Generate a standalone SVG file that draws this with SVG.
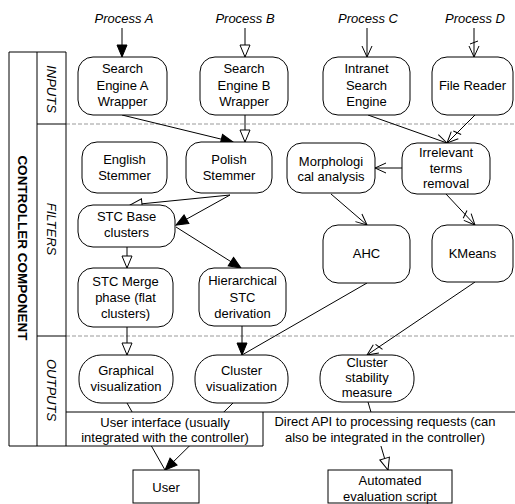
<svg xmlns="http://www.w3.org/2000/svg" width="515" height="504" viewBox="0 0 515 504">
<style>
text{font-family:"Liberation Sans",Arial,sans-serif;font-size:13px;fill:#000;text-anchor:middle}
.it{font-style:italic}
.b{font-weight:bold;font-size:13.5px}
.node{fill:#fff;stroke:#000;stroke-width:1}
.ln{fill:none;stroke:#000;stroke-width:1}
.dash{stroke:#999;stroke-width:1;stroke-dasharray:4 2;fill:none}
</style>
<defs>
<marker id="fill" markerUnits="userSpaceOnUse" markerWidth="20" markerHeight="20" orient="auto" overflow="visible"><path d="M-12,-5 L0,0 L-12,5 Z" fill="#000" stroke="#000"/></marker>
<marker id="open" markerUnits="userSpaceOnUse" markerWidth="20" markerHeight="20" orient="auto" overflow="visible"><path d="M-12,-5 L0,0 L-12,5 Z" fill="#fff" stroke="#000"/></marker>
<marker id="vee" markerUnits="userSpaceOnUse" markerWidth="20" markerHeight="20" orient="auto" overflow="visible"><path d="M-11,-5 L0,0 L-11,5" fill="none" stroke="#000"/></marker>
<marker id="veetick" markerUnits="userSpaceOnUse" markerWidth="20" markerHeight="20" orient="auto" overflow="visible"><path d="M-11,-5 L0,0 L-11,5 M-16,-4 L-13,4" fill="none" stroke="#000"/></marker>
</defs>

<g id="lanes">
<line class="dash" x1="66" y1="124" x2="515" y2="124"/>
<line class="dash" x1="66" y1="336" x2="515" y2="336"/>
</g>

<g id="connectors" class="ln">
<line x1="122" y1="28" x2="122" y2="57" marker-end="url(#fill)"/>
<line x1="245" y1="28" x2="245" y2="57" marker-end="url(#open)"/>
<line x1="367" y1="28" x2="367" y2="57" marker-end="url(#vee)"/>
<line x1="474" y1="28" x2="474" y2="57" marker-end="url(#veetick)"/>
<line x1="122" y1="115" x2="233" y2="142" marker-end="url(#fill)"/>
<line x1="245" y1="115" x2="245" y2="142" marker-end="url(#open)"/>
<line x1="368" y1="115" x2="447" y2="143" marker-end="url(#vee)"/>
<line x1="475" y1="115" x2="447" y2="143" marker-end="url(#veetick)"/>
<line x1="402" y1="168" x2="375" y2="168" marker-end="url(#vee)"/>
<line x1="331" y1="194" x2="367" y2="225" marker-end="url(#vee)"/>
<line x1="446" y1="194" x2="475" y2="225" marker-end="url(#veetick)"/>
<line x1="230" y1="195" x2="130" y2="205" marker-end="url(#open)"/>
<line x1="230" y1="195" x2="176" y2="225" marker-end="url(#fill)"/>
<line x1="127" y1="247" x2="127" y2="268" marker-end="url(#open)"/>
<line x1="176" y1="227" x2="241" y2="268" marker-end="url(#fill)"/>
<line x1="127" y1="327" x2="127" y2="355" marker-end="url(#open)"/>
<line x1="242" y1="326" x2="242" y2="355" marker-end="url(#fill)"/>
<line x1="367" y1="283" x2="242" y2="355"/>
<line x1="475" y1="282" x2="367" y2="355" marker-end="url(#veetick)"/>
<line x1="127" y1="403" x2="165" y2="470"/>
<line x1="233" y1="403" x2="165" y2="470" marker-end="url(#fill)"/>
<line x1="368" y1="402" x2="388" y2="470" marker-end="url(#open)"/>
</g>

<g id="frame" class="ln">
<rect x="66" y="412" width="449" height="34" fill="#fff" stroke="none"/>
<line x1="9" y1="52" x2="66" y2="52"/>
<line x1="9" y1="52" x2="9" y2="446"/>
<line x1="37" y1="52" x2="37" y2="446"/>
<line x1="66" y1="52" x2="66" y2="446"/>
<line x1="37" y1="124" x2="66" y2="124"/>
<line x1="37" y1="336" x2="66" y2="336"/>
<line x1="66" y1="412" x2="515" y2="412"/>
<line x1="9" y1="446" x2="263" y2="446"/>
<line x1="263" y1="412" x2="263" y2="446"/>
</g>

<g id="labels">
<text class="b" transform="translate(23,248) rotate(90)" y="5">CONTROLLER COMPONENT</text>
<text class="it" transform="translate(51.5,89) rotate(90)" y="4.5">INPUTS</text>
<text class="it" transform="translate(51.5,229) rotate(90)" y="4.5">FILTERS</text>
<text class="it" transform="translate(51.5,390) rotate(90)" y="4.5">OUTPUTS</text>
<text class="it" x="124" y="23">Process A</text>
<text class="it" x="245" y="23">Process B</text>
<text class="it" x="368" y="23">Process C</text>
<text class="it" x="475" y="23">Process D</text>
</g>

<g id="searchA"><rect class="node" x="78" y="57" width="89" height="58" rx="15"/>
<text x="122.5" y="73">Search</text><text x="122.5" y="90">Engine A</text><text x="122.5" y="106">Wrapper</text></g>
<g id="searchB"><rect class="node" x="200" y="57" width="88" height="58" rx="15"/>
<text x="244" y="73">Search</text><text x="244" y="90">Engine B</text><text x="244" y="106">Wrapper</text></g>
<g id="intranet"><rect class="node" x="323" y="57" width="87" height="58" rx="15"/>
<text x="366.5" y="73">Intranet</text><text x="366.5" y="90">Search</text><text x="366.5" y="106">Engine</text></g>
<g id="fileReader"><rect class="node" x="432" y="57" width="81" height="58" rx="15"/>
<text x="472.5" y="90">File Reader</text></g>

<g id="english"><rect class="node" x="82" y="142" width="85" height="51" rx="15"/>
<text x="124.5" y="164">English</text><text x="124.5" y="180">Stemmer</text></g>
<g id="polish"><rect class="node" x="186" y="142" width="86" height="51" rx="15"/>
<text x="229" y="164">Polish</text><text x="229" y="180">Stemmer</text></g>
<g id="morph"><rect class="node" x="287" y="143" width="88" height="50" rx="15"/>
<text x="331" y="166">Morphologi</text><text x="331" y="181">cal analysis</text></g>
<g id="irrelevant"><rect class="node" x="402" y="143" width="88" height="51" rx="15"/>
<text x="446" y="157">Irrelevant</text><text x="446" y="172.5">terms</text><text x="446" y="188">removal</text></g>

<g id="stcBase"><rect class="node" x="78" y="205" width="97" height="42" rx="15"/>
<text x="126.5" y="221">STC Base</text><text x="126.5" y="237">clusters</text></g>
<g id="ahc"><rect class="node" x="323" y="225" width="87" height="58" rx="15"/>
<text x="366.5" y="258">AHC</text></g>
<g id="kmeans"><rect class="node" x="432" y="225" width="81" height="57" rx="15"/>
<text x="472.5" y="258">KMeans</text></g>

<g id="stcMerge"><rect class="node" x="78" y="268" width="95" height="59" rx="15"/>
<text x="125.5" y="285.5">STC Merge</text><text x="125.5" y="301.5">phase (flat</text><text x="125.5" y="317.5">clusters)</text></g>
<g id="hierarchical"><rect class="node" x="199" y="268" width="87" height="58" rx="15"/>
<text x="242.5" y="285">Hierarchical</text><text x="242.5" y="301.5">STC</text><text x="242.5" y="317.5">derivation</text></g>

<g id="graphical"><rect class="node" x="79" y="355" width="94" height="48" rx="22" ry="22"/>
<text x="126" y="374.5">Graphical</text><text x="126" y="390.5">visualization</text></g>
<g id="clusterVis"><rect class="node" x="195" y="355" width="93" height="48" rx="22" ry="22"/>
<text x="241.5" y="374.5">Cluster</text><text x="241.5" y="390.5">visualization</text></g>
<g id="stability"><rect class="node" x="320" y="355" width="94" height="47" rx="22" ry="22"/>
<text x="367" y="366.5">Cluster</text><text x="367" y="382">stability</text><text x="367" y="397">measure</text></g>

<g id="userInterface">
<text x="165" y="426.5">User interface (usually</text><text x="165" y="441.5">integrated with the controller)</text></g>
<g id="directApi">
<text x="385" y="426">Direct API to processing requests (can</text><text x="385" y="441.5">also be integrated in the controller)</text></g>

<g id="user"><rect class="node" x="133" y="470" width="66" height="33"/>
<text x="166" y="492">User</text></g>
<g id="automated"><rect class="node" x="328" y="470" width="124" height="33"/>
<text x="390" y="485">Automated</text><text x="390" y="501">evaluation script</text></g>
</svg>
